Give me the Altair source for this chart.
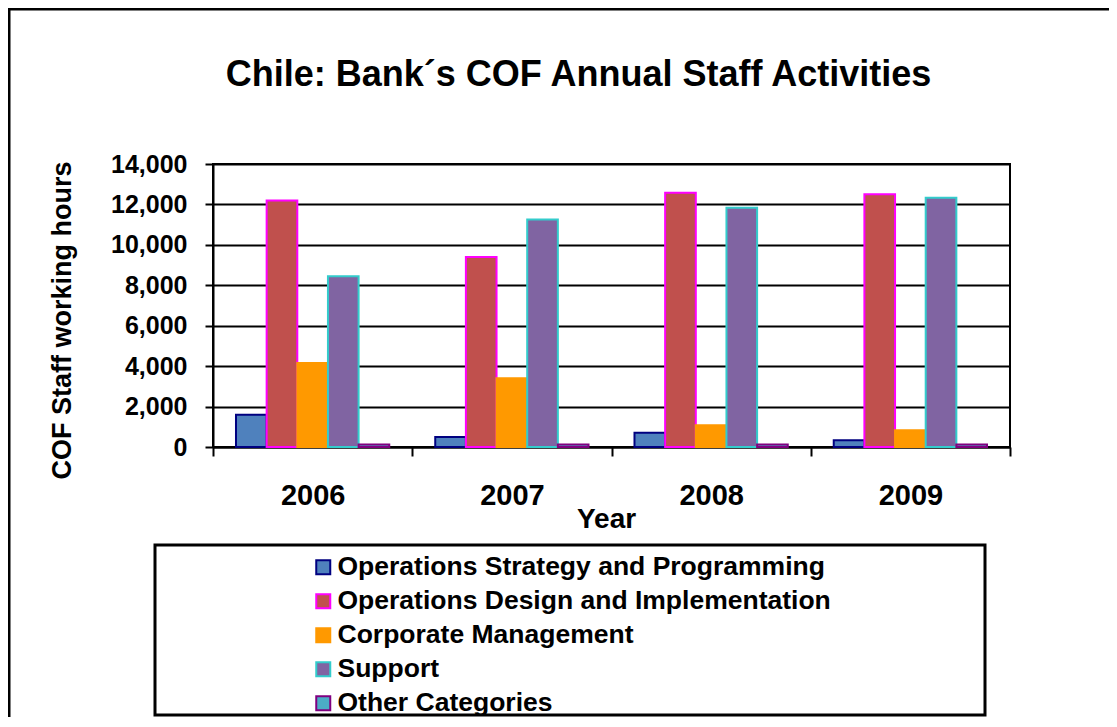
import altair as alt
import pandas as pd

years = ["2006", "2007", "2008", "2009"]
categories = [
    "Operations Strategy and Programming",
    "Operations Design and Implementation",
    "Corporate Management",
    "Support",
    "Other Categories",
]
ops_strategy = [1600, 500, 700, 330]
ops_design = [12200, 9400, 12580, 12500]
corporate = [4150, 3400, 1080, 830]
support = [8450, 11250, 11840, 12330]
other = [120, 120, 120, 120]

fill_colors = ["#4F81BD", "#C0504D", "#FF9900", "#8064A2", "#4BACC6"]
stroke_colors = ["#000080", "#FF00FF", "#FF9900", "#33CCCC", "#800080"]

series = [ops_strategy, ops_design, corporate, support, other]
rows = []
for cat, vals in zip(categories, series):
    for yr, v in zip(years, vals):
        rows.append({"Year": yr, "Category": cat, "Hours": v})
df = pd.DataFrame(rows)

FONT = "Liberation Sans"
W, H = 797, 283

bars = alt.Chart(df).mark_bar(strokeWidth=2).encode(
    x=alt.X(
        "Year:N",
        sort=years,
        scale=alt.Scale(paddingInner=0, paddingOuter=0),
        axis=alt.Axis(
            title="Year",
            labelAngle=0,
            tickBand="extent",
            labelFont=FONT,
            labelFontSize=29,
            labelFontWeight="bold",
            labelColor="black",
            labelPadding=25,
            domainColor="black",
            domainWidth=2,
            tickColor="black",
            tickWidth=2,
            tickSize=9,
            grid=False,
            titleFont=FONT,
            titleFontSize=28,
            titleFontWeight="bold",
            titleColor="black",
            titleX=393,
            titleY=80,
            titleBaseline="alphabetic",
        ),
    ),
    xOffset=alt.XOffset(
        "Category:N",
        sort=categories,
        scale=alt.Scale(domain=categories, paddingInner=0, paddingOuter=0.75),
    ),
    y=alt.Y(
        "Hours:Q",
        scale=alt.Scale(domain=[0, 14000], nice=False),
        axis=alt.Axis(
            title="COF Staff working hours",
            values=list(range(0, 14001, 2000)),
            format=",.0f",
            labelFont=FONT,
            labelFontSize=25,
            labelFontWeight="bold",
            labelColor="black",
            labelPadding=18,
            domainColor="black",
            domainWidth=2,
            tickColor="black",
            tickWidth=2,
            tickSize=8,
            gridColor="black",
            gridWidth=2,
            titleFont=FONT,
            titleFontSize=27,
            titleFontWeight="bold",
            titleColor="black",
            titleX=-151,
            titleY=156,
            titleAngle=270,
            titleAlign="center",
            titleBaseline="middle",
        ),
    ),
    color=alt.Color(
        "Category:N",
        scale=alt.Scale(domain=categories, range=fill_colors),
        title=None,
    ),
    stroke=alt.Stroke(
        "Category:N",
        scale=alt.Scale(domain=categories, range=stroke_colors),
        title=None,
    ),
)

box_data = alt.Data(values=[{"k": 1}])
legend_box = alt.Chart(box_data).mark_rect(
    fillOpacity=0, stroke="black", strokeWidth=3
).encode(
    x=alt.value(-58), x2=alt.value(772), y=alt.value(381), y2=alt.value(551)
)
outer_box = alt.Chart(box_data).mark_rect(
    fillOpacity=0, stroke="black", strokeWidth=3
).encode(
    x=alt.value(-204), x2=alt.value(2000), y=alt.value(-155), y2=alt.value(2000)
)

chart = alt.layer(outer_box, legend_box, bars).properties(
    width=W,
    height=H,
    background="white",
    autosize=alt.AutoSizeParams(type="none"),
    padding={"left": 205, "top": 156, "right": 99, "bottom": 270},
    title=alt.TitleParams(
        "Chile: Bank´s COF Annual Staff Activities",
        font=FONT,
        fontSize=36,
        fontWeight="bold",
        color="black",
        anchor="middle",
        frame="group",
        offset=-86,
        dx=-33,
    ),
).configure_view(
    stroke="black", strokeWidth=2
).configure_legend(
    orient="none",
    legendX=97,
    legendY=390,
    labelFont=FONT,
    labelFontSize=26.5,
    labelFontWeight="bold",
    labelColor="black",
    symbolType="square",
    symbolSize=196,
    symbolStrokeWidth=2,
    symbolOpacity=1,
    rowPadding=7,
    labelOffset=1,
    labelLimit=800,
    padding=0,
)

chart.save("out.html", embed_options={"renderer": "svg", "actions": False})
